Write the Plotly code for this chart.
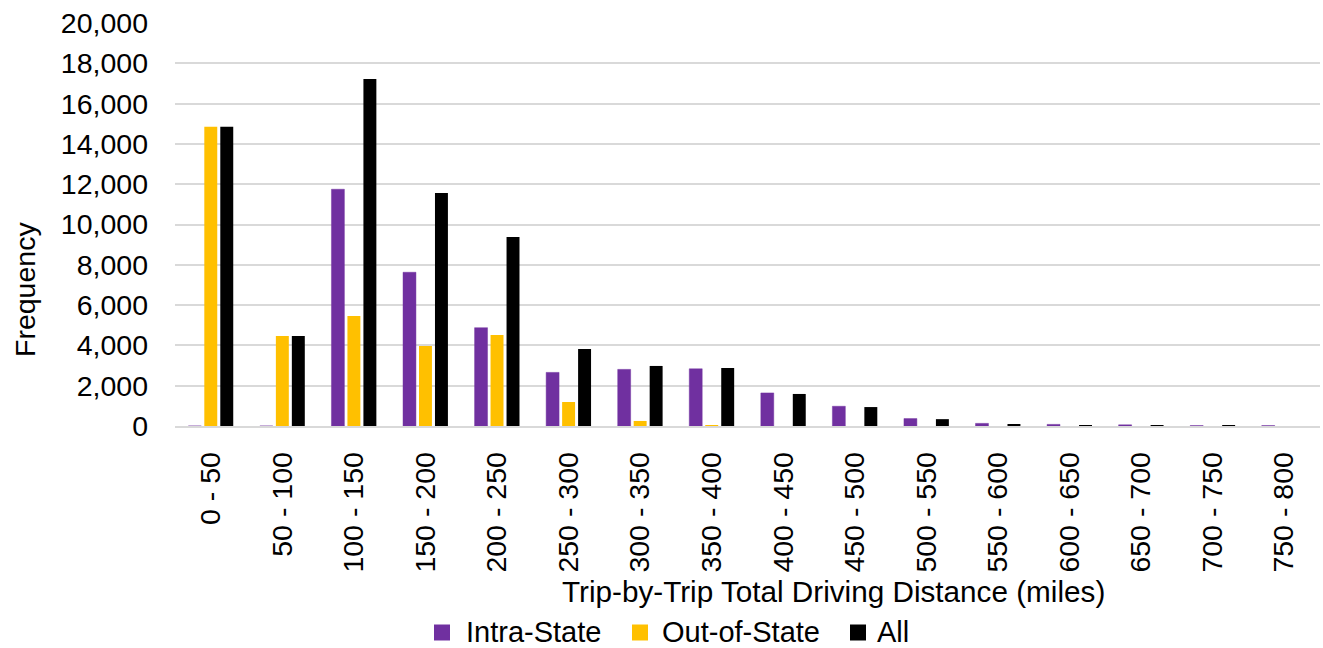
import plotly.graph_objects as go

categories = ["0 - 50", "50 - 100", "100 - 150", "150 - 200", "200 - 250", "250 - 300",
              "300 - 350", "350 - 400", "400 - 450", "450 - 500", "500 - 550", "550 - 600",
              "600 - 650", "650 - 700", "700 - 750", "750 - 800"]

intra_state = [0, 0, 11750, 7630, 4880, 2660, 2810, 2840, 1640, 980, 370, 130, 80, 60, 20, 20]
out_of_state = [14850, 4470, 5460, 3970, 4520, 1190, 250, 20, 0, 0, 0, 0, 0, 0, 0, 0]
all_trips = [14850, 4470, 17220, 11560, 9380, 3820, 2980, 2880, 1590, 940, 340, 80, 30, 30, 10, 0]

series_names = ["Intra-State", "Out-of-State", "All"]
series_colors = ["#7030A0", "#FFC000", "#000000"]

y_ticks = list(range(0, 20001, 2000))

FONT = "Liberation Sans, Arial, sans-serif"
FS = 28.5

W, H = 1323, 648
L, R, T, B = 175, 3, 23, 222
PW, PH = W - L - R, H - T - B


def px(x):
    """Pixel x -> paper x."""
    return (x - L) / PW


def py(y):
    """Pixel y (from top) -> paper y."""
    return (H - B - y) / PH


fig = go.Figure()
for name, vals, color in zip(series_names, [intra_state, out_of_state, all_trips], series_colors):
    line = dict(color="rgba(112,48,160,0.45)", width=1) if name == "Intra-State" else dict(width=0)
    fig.add_trace(go.Bar(name=name, x=categories, y=vals, marker=dict(color=color, line=line),
                         showlegend=False))

# Legend row drawn as squares + labels
legend_items = [(442, 466), (640, 662), (858, 877)]
shapes = []
annotations = []
for (cx, tx), name, color in zip(legend_items, series_names, series_colors):
    shapes.append(dict(type="rect", xref="paper", yref="paper",
                       x0=px(cx - 8), x1=px(cx + 8), y0=py(640.5), y1=py(624.5),
                       fillcolor=color, line=dict(width=0)))
    annotations.append(dict(text=name, xref="paper", yref="paper", x=px(tx), y=py(632),
                            xanchor="left", yanchor="middle", showarrow=False,
                            font=dict(size=29), xshift=-2))

annotations += [
    dict(text="Frequency", xref="paper", yref="paper", x=px(25), y=py(290),
         textangle=-90, showarrow=False, font=dict(size=FS), xanchor="center", yanchor="middle"),
    dict(text="Trip-by-Trip Total Driving Distance (miles)", xref="paper", yref="paper",
         x=px(833), y=py(591.5), showarrow=False, font=dict(size=29.7),
         xanchor="center", yanchor="middle"),
]

fig.update_layout(
    width=W, height=H,
    margin=dict(l=L, r=R, t=T, b=B, autoexpand=False),
    paper_bgcolor="white", plot_bgcolor="white",
    barmode="group", bargap=0.33, bargroupgap=0.19,
    font=dict(family=FONT, size=FS, color="#000000"),
    showlegend=False,
    xaxis=dict(type="category", tickangle=-90, showgrid=False, showline=True,
               linecolor="#d9d9d9", linewidth=1.5, ticks="", ticklabelstandoff=13,
               tickfont=dict(size=FS), automargin=False),
    yaxis=dict(range=[0, 20000], tickvals=y_ticks, tickformat=",d", showgrid=True,
               gridcolor="#d9d9d9", gridwidth=1.5, zeroline=False, showline=False,
               ticks="", ticklabelstandoff=26, tickfont=dict(size=FS), automargin=False),
    shapes=shapes,
    annotations=annotations,
)

fig.write_html("out.html")
